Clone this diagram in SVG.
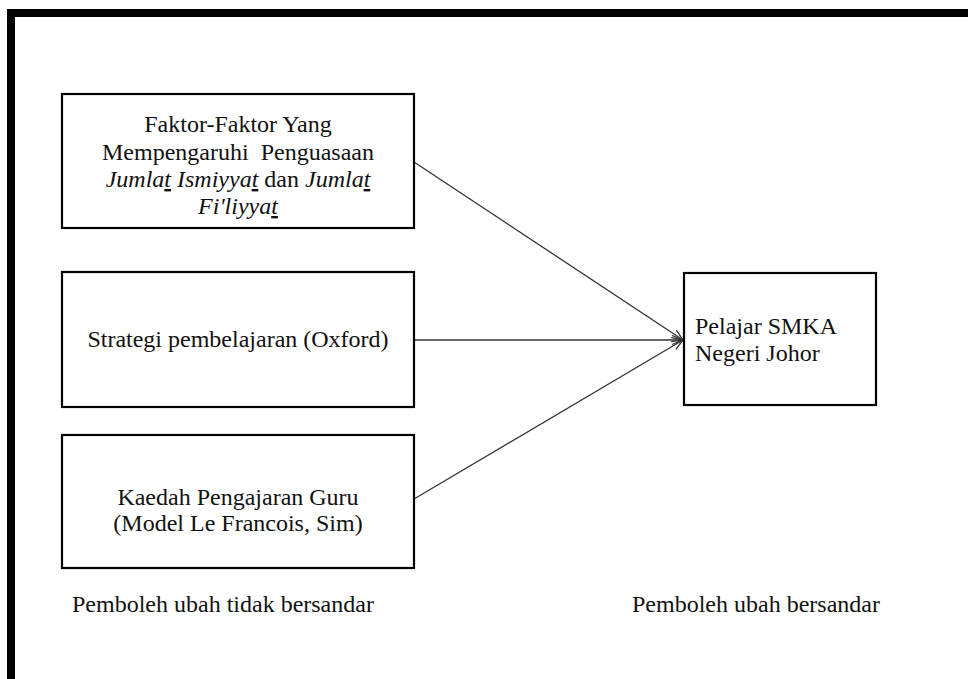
<svg xmlns="http://www.w3.org/2000/svg" width="968" height="679" viewBox="0 0 968 679">
<style>
.box{fill:#fff;stroke:#000;stroke-width:2.2}
text{font-family:'Liberation Serif','Times New Roman','DejaVu Serif',serif;font-size:24px;fill:#111}
.i{font-style:italic}
.u{text-decoration:underline}
.conn{stroke:#333;stroke-width:1.3;fill:none}
</style>
<defs>
<marker id="arr" markerUnits="userSpaceOnUse" markerWidth="14" markerHeight="12" refX="12" refY="5" orient="auto">
<path d="M1,0.5 L12,5 L1,9.5" fill="none" stroke="#333" stroke-width="1.3"/>
</marker>
</defs>
<rect x="0" y="0" width="968" height="679" fill="#fff"/>
<g id="frame">
<rect x="7" y="9" width="961" height="8" fill="#000"/>
<rect x="7" y="9" width="8" height="670" fill="#000"/>
</g>
<g id="connectors">
<line class="conn" x1="414" y1="162" x2="683" y2="340" marker-end="url(#arr)"/>
<line class="conn" x1="414" y1="340" x2="683" y2="340" marker-end="url(#arr)"/>
<line class="conn" x1="414" y1="499" x2="683" y2="340" marker-end="url(#arr)"/>
</g>
<g id="node1">
<rect class="box" x="62" y="94" width="352" height="134"/>
<text font-family="Liberation Serif, serif" x="238" y="132" text-anchor="middle">Faktor-Faktor Yang</text>
<text font-family="Liberation Serif, serif" x="238" y="160" text-anchor="middle" xml:space="preserve">Mempengaruhi  Penguasaan</text>
<text font-family="Liberation Serif, serif" x="238" y="187" text-anchor="middle"><tspan class="i">Jumla<tspan class="u">t</tspan> Ismiyya<tspan class="u">t</tspan></tspan> dan <tspan class="i">Jumla<tspan class="u">t</tspan></tspan></text>
<text font-family="Liberation Serif, serif" class="i" x="238" y="214" text-anchor="middle">Fi'liyya<tspan class="u">t</tspan></text>
</g>
<g id="node2">
<rect class="box" x="62" y="272" width="352" height="135"/>
<text font-family="Liberation Serif, serif" x="238" y="347" text-anchor="middle">Strategi pembelajaran (Oxford)</text>
</g>
<g id="node3">
<rect class="box" x="62" y="435" width="352" height="133"/>
<text font-family="Liberation Serif, serif" x="238" y="505" text-anchor="middle">Kaedah Pengajaran Guru</text>
<text font-family="Liberation Serif, serif" x="238" y="531" text-anchor="middle">(Model Le Francois, Sim)</text>
</g>
<g id="node4">
<rect class="box" x="684" y="273" width="192" height="132"/>
<text font-family="Liberation Serif, serif" x="695" y="334">Pelajar SMKA</text>
<text font-family="Liberation Serif, serif" x="695" y="361">Negeri Johor</text>
</g>
<g id="labels">
<text font-family="Liberation Serif, serif" x="72" y="612">Pemboleh ubah tidak bersandar</text>
<text font-family="Liberation Serif, serif" x="632" y="612">Pemboleh ubah bersandar</text>
</g>
</svg>
